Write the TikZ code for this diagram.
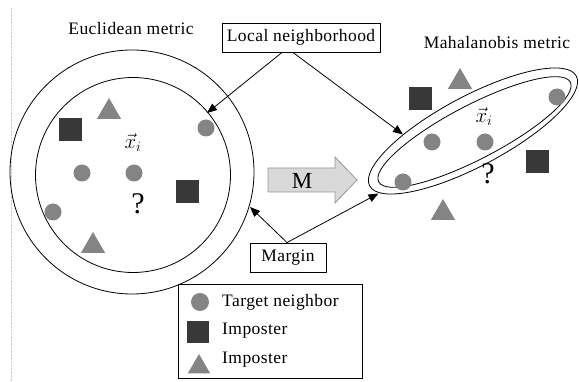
\documentclass[tikz,border=0pt]{standalone}
\usepackage{fontspec}
\setmainfont{Liberation Serif}[LetterSpace=2.5]
\usetikzlibrary{arrows.meta,shapes.geometric}
\definecolor{tgray}{RGB}{132,132,132}
\definecolor{sqdark}{RGB}{56,56,56}
\definecolor{arrfill}{RGB}{217,217,217}
\definecolor{arrdraw}{RGB}{150,150,150}
\begin{document}
\begin{tikzpicture}[x=1pt,y=-1pt,
  txt/.style={font=\fontsize{17.5}{19}\selectfont,inner sep=0pt},
  box/.style={draw,line width=0.9pt,fill=white,font=\fontsize{17.5}{19}\selectfont,inner sep=0pt},
  tn/.style={circle,fill=tgray,minimum size=17pt,inner sep=0pt},
  imp/.style={rectangle,fill=sqdark,minimum size=23pt,inner sep=0pt},
  tri/.style={regular polygon,regular polygon sides=3,fill=tgray,minimum size=28pt,inner sep=0pt},
  ring/.style={line width=0.8pt},
  conn/.style={line width=0.8pt,-{Triangle[length=10pt,width=8pt]}},
  qm/.style={font=\fontsize{30}{32}\selectfont,inner sep=0pt},
  xi/.style={font=\fontsize{21}{23}\selectfont,inner sep=0pt}]
\useasboundingbox (0,0) rectangle (579,382);
\fill[white] (0,0) rectangle (579,382);
\draw[gray!40,densely dotted] (11,8) -- (11,382);

% Euclidean side
\node[txt] (eu) at (131,29) {Euclidean metric};
\node[circle,draw,ring,minimum size=244pt,inner sep=0pt] (outer) at (132,172) {};
\node[circle,draw,ring,minimum size=195pt,inner sep=0pt] (inner) at (133,175) {};
\node[tri] (lt1) at (109,112) {};
\node[imp] (ls1) at (70,130) {};
\node[tn] (lc1) at (206,128) {};
\node[xi] (lx) at (133,143) {$\vec{x}_i$};
\node[tn] (lc2) at (82,173) {};
\node[tn] (lc3) at (134,173) {};
\node[imp] (ls2) at (187,192) {};
\node[qm] (lq) at (138,204) {?};
\node[tn] (lc4) at (53,212) {};
\node[tri] (lt2) at (93,246) {};

% transform arrow
\draw[arrdraw,fill=arrfill,line width=0.8pt] (268,168) -- (335,168) -- (335,157) -- (357,180) -- (335,203) -- (335,192) -- (268,192) -- cycle;
\node[font=\fontsize{23}{25}\selectfont,inner sep=0pt] (M) at (302,181) {M};

% Mahalanobis side
\node[txt] (ma) at (497,43) {Mahalanobis metric};
\draw[ring,rotate around={28:(473,131)}] (473,131) ellipse [x radius=117, y radius=35];
\draw[ring,rotate around={27.5:(474.5,132)}] (474.5,132) ellipse [x radius=108, y radius=27];
\node[tri] (rt1) at (460,82) {};
\node[imp] (rs1) at (420,99) {};
\node[tn] (rc1) at (557,97) {};
\node[xi] (rx) at (484,117) {$\vec{x}_i$};
\node[tn] (rc2) at (432,142) {};
\node[tn] (rc3) at (485,142) {};
\node[imp] (rs2) at (537,162) {};
\node[qm] (rq) at (488,174) {?};
\node[tn] (rc4) at (403,182) {};
\node[tri] (rt2) at (443,213) {};

% labels with arrows
\node[box,minimum width=158pt,minimum height=29pt] (ln) at (301,37.5) {Local neighborhood};
\node[box,minimum width=76pt,minimum height=29pt] (mg) at (288,257.5) {Margin};
\coordinate (tA) at (207,113);
\coordinate (tB) at (403,134.5);
\coordinate (tC) at (250,207);
\coordinate (tD) at (378.5,193.5);
\draw[conn] ([xshift=-19pt]ln.south) -- (tA);
\draw[conn] ([xshift=-8pt]ln.south) -- (tB);
\draw[conn] ([xshift=-1pt]mg.north) -- (tC);
\draw[conn] ([xshift=-1pt]mg.north) -- (tD);

% legend
\node[draw,line width=0.9pt,minimum width=184pt,minimum height=94pt,inner sep=0pt] (leg) at (270,331) {};
\node[tn,minimum size=18pt] (k1) at (200,302) {};
\node[imp,minimum size=22pt] (k2) at (198,332) {};
\node[tri,minimum size=26pt] (k3) at (199,367) {};
\node[txt,anchor=west] (l1) at (222,302) {Target neighbor};
\node[txt,anchor=west] (l2) at (222,331) {Imposter};
\node[txt,anchor=west] (l3) at (222,360) {Imposter};
\end{tikzpicture}
\end{document}
